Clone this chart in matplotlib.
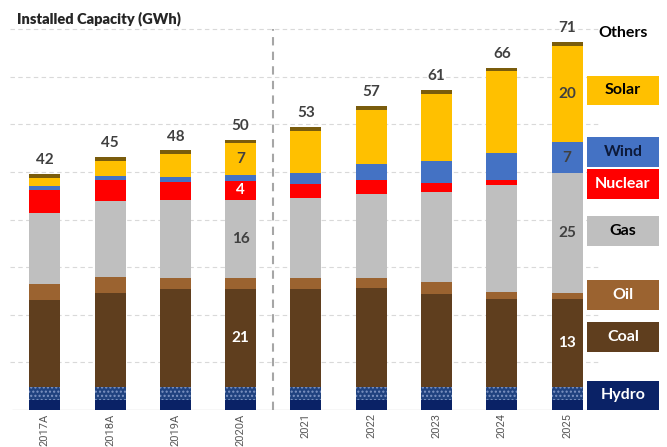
import matplotlib.pyplot as plt
from matplotlib.patches import Rectangle
import numpy as np

plt.rcParams['font.family'] = ['Lato', 'DejaVu Sans']

# categories
years = ['2017A', '2018A', '2019A', '2020A', '2021', '2022', '2023', '2024', '2025']

# segment heights as drawn (stacked bottom -> top)
hydro = [2.0, 2.0, 2.0, 2.0, 2.0, 2.0, 2.1, 2.0, 2.0]
hydro_imp = [2.8, 2.8, 2.8, 2.8, 2.8, 2.8, 2.7, 2.8, 2.8]
coal = [18.3, 19.8, 20.6, 20.6, 20.6, 20.8, 19.6, 18.6, 18.6]
oil = [3.4, 3.4, 2.4, 2.4, 2.4, 2.1, 2.4, 1.3, 1.1]
gas = [14.8, 15.8, 16.2, 16.4, 16.7, 17.7, 19.0, 22.6, 25.2]
nuclear = [5.0, 4.5, 3.9, 3.8, 2.9, 2.9, 1.9, 0.9, 0.0]
wind = [0.8, 0.9, 1.1, 1.4, 2.3, 3.4, 4.5, 5.7, 6.6]
solar = [1.7, 3.1, 4.7, 6.6, 8.9, 11.3, 14.2, 17.2, 20.2]
others = [0.8, 0.8, 0.8, 0.8, 0.8, 0.9, 0.8, 0.8, 0.8]

total_labels = ['42', '45', '48', '50', '53', '57', '61', '66', '71']

# value labels written inside some segments: (year index, series, text, colour)
seg_labels = [
    (3, 'coal', '21', 'white'), (3, 'gas', '16', '#404040'),
    (3, 'nuclear', '4', 'white'), (3, 'solar', '7', '#404040'),
    (8, 'coal', '13', 'white'), (8, 'gas', '25', '#404040'),
    (8, 'wind', '7', '#404040'), (8, 'solar', '20', '#404040'),
]

series = [
    ('hydro', hydro, '#0a2266'),
    ('hydro_imp', hydro_imp, '#20427f'),
    ('coal', coal, '#5f3e1e'),
    ('oil', oil, '#9b6330'),
    ('gas', gas, '#bfbfbf'),
    ('nuclear', nuclear, '#ff0000'),
    ('wind', wind, '#4472c4'),
    ('solar', solar, '#ffc000'),
    ('others', others, '#7a5c0c'),
]

W, H = 667, 447
fig = plt.figure(figsize=(W / 100, H / 100), dpi=100)
ax = fig.add_axes([0, 37 / H, 1, 410 / H])
ax.set_xlim(-0.685, 9.53)
ax.set_ylim(0, 86.1)
for s in ax.spines.values():
    s.set_visible(False)
ax.set_yticks([])
ax.set_xticks([])

x = np.arange(len(years))
bw = 0.475

# grid
ax.hlines(np.arange(10, 81, 10), -0.53, 8.5, colors='#d9d9d9', linestyles=(0, (4, 3)), lw=0.8, zorder=0)
ax.hlines(0, -0.5, 8.3, colors='#d9d9d9', lw=1.0, zorder=0)
ax.plot([3.5, 3.5], [0, 80], color='#a6a6a6', lw=1.5, ls=(0, (4, 3)), zorder=0)

bottom = np.zeros(len(years))
bottoms = {}
for name, vals, col in series:
    vals = np.array(vals)
    if name == 'hydro_imp':
        ax.bar(x, vals, bw, bottom=bottom, color=col, edgecolor='#7f95c4', lw=0, hatch='....', zorder=2)
    else:
        ax.bar(x, vals, bw, bottom=bottom, color=col, lw=0, zorder=2)
    bottoms[name] = (bottom.copy(), vals)
    bottom = bottom + vals

for i, t in enumerate(total_labels):
    ax.annotate(t, (x[i], bottom[i]), xytext=(0, 5), textcoords='offset points',
                ha='center', va='bottom', fontsize=11, fontweight='bold', color='#404040')

for i, name, t, c in seg_labels:
    b, v = bottoms[name]
    ax.text(x[i], b[i] + v[i] / 2, t, ha='center', va='center', fontsize=11,
            fontweight='bold', color=c, zorder=3)

# x labels
for i, y in enumerate(years):
    ax.text(x[i], -0.7, y, rotation=90, ha='center', va='top', fontsize=8,
            color='#595959', family='Roboto')

fig.text(17 / W, 1 - 19 / H, 'Installed Capacity (GWh)', fontsize=10.5, fontweight='heavy',
         color='#262626', va='center', ha='left')

# legend boxes (pixel positions)
legend = [
    ('Solar', '#ffc000', '#000000', 76, 105),
    ('Wind', '#4472c4', '#0d1a3a', 137, 167),
    ('Nuclear', '#ff0000', 'white', 169, 199),
    ('Gas', '#bfbfbf', '#000000', 216, 246),
    ('Oil', '#9b6330', 'white', 280, 310),
    ('Coal', '#5f3e1e', 'white', 322, 352),
    ('Hydro', '#0a2266', 'white', 381, 410),
]
x0, x1 = 587, 659
for lab, fc, tc, top, bot in legend:
    fig.add_artist(Rectangle((x0 / W, 1 - bot / H), (x1 - x0) / W, (bot - top) / H,
                             transform=fig.transFigure, facecolor=fc, lw=0))
    fig.text((x0 + x1) / 2 / W, 1 - (top + bot) / 2 / H, lab, ha='center', va='center',
             fontsize=11.5, fontweight='bold', color=tc)
fig.text(623 / W, 1 - 33 / H, 'Others', ha='center', va='center', fontsize=11.5,
         fontweight='bold', color='#000000')

fig.savefig('out.png', dpi=100)
